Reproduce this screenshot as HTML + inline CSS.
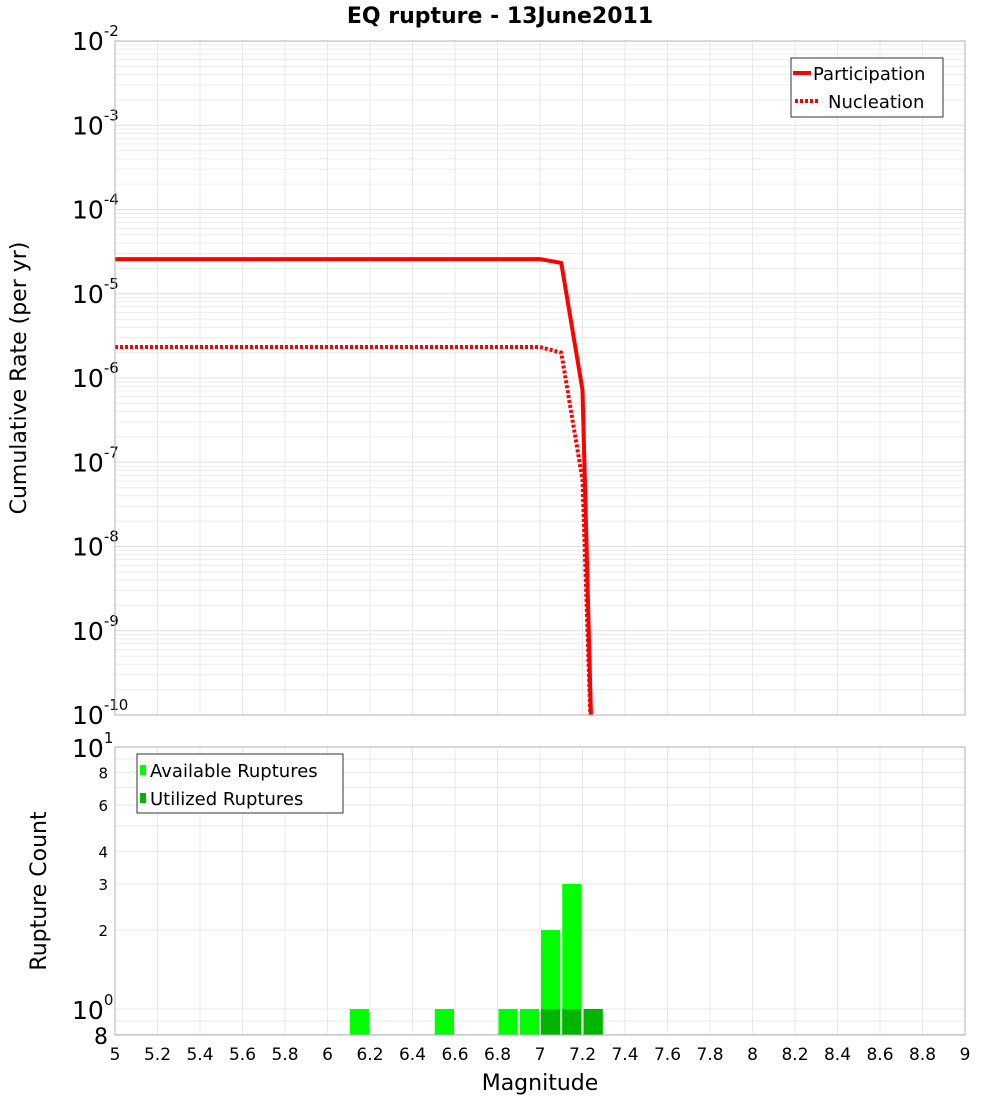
<!DOCTYPE html>
<html><head><meta charset="utf-8"><style>
html,body{margin:0;padding:0;background:#fff;}
svg{display:block;font-family:"DejaVu Sans","Liberation Sans",sans-serif;}
</style></head><body>
<svg id="c" width="1000" height="1100" xmlns="http://www.w3.org/2000/svg">
<text x="500" y="23" text-anchor="middle" font-size="22" font-weight="bold">EQ rupture - 13June2011</text>
<g id="topg"></g><g id="botg"></g>
<text transform="translate(26,378) rotate(-90)" text-anchor="middle" font-size="22">Cumulative Rate (per yr)</text>
<text transform="translate(46,891) rotate(-90)" text-anchor="middle" font-size="22">Rupture Count</text>
<text x="540" y="1090" text-anchor="middle" font-size="22">Magnitude</text>
</svg>
<script>
const mags = [5.0, 7.0, 7.1, 7.2, 7.25];
const participation = [2.58e-5, 2.58e-5, 2.32e-5, 7.2e-7, 1e-11];
const nucleation = [2.33e-6, 2.33e-6, 2.0e-6, 6.2e-8, 1e-11];
const binCenters = [6.15, 6.55, 6.85, 6.95, 7.05, 7.15, 7.25];
const available = [1, 1, 1, 1, 2, 3, 1];
const utilized = [0, 0, 0, 0, 1, 1, 1];
const xTicks = [5,5.2,5.4,5.6,5.8,6,6.2,6.4,6.6,6.8,7,7.2,7.4,7.6,7.8,8,8.2,8.4,8.6,8.8,9];
const topDecades = [-2,-3,-4,-5,-6,-7,-8,-9,-10];
const botTicks = [8,6,4,3,2];

const NS="http://www.w3.org/2000/svg";
const L=115,R=965,T1=41,B1=715,T2=747,B2=1035;
const xs=m=>L+(m-5)/4*(R-L);
const y1=v=>T1+(-2-Math.log10(v))*(B1-T1)/8;
const y2=v=>1009-Math.log10(v)*(1009-T2);
function el(tag,attrs,parent,text){const e=document.createElementNS(NS,tag);for(const k in attrs)e.setAttribute(k,attrs[k]);if(text!==undefined)e.textContent=text;parent.appendChild(e);return e;}
const topG=document.getElementById('topg'),botG=document.getElementById('botg');

for(let d=-10;d<-2;d++){for(let k=1;k<10;k++){const y=y1(k*Math.pow(10,d));const g=el('line',{x1:L,x2:R,y1:y,y2:y,stroke:k==1?'#e0e0e0':'#ececec','stroke-width':1},topG);

}}
xTicks.forEach(t=>{const x=xs(t);const g=el('line',{x1:x,x2:x,y1:T1,y2:B1,stroke:'#e8e8e8'},topG);


const g2=el('line',{x1:x,x2:x,y1:T2,y2:B2,stroke:'#e8e8e8'},botG);


const tl=el('text',{x:x,y:1060,'text-anchor':'middle','font-size':17},botG,String(t));

});
topDecades.forEach(d=>{const y=y1(Math.pow(10,d));const t=el('text',{x:72,y:y+9,'font-size':25},topG);


t.appendChild(document.createTextNode('10'));
el('tspan',{dy:-14,'font-size':15},t,String(d));});
const defs=el('defs',{},topG);const cp=el('clipPath',{id:'cp1'},defs);el('rect',{x:L,y:T1,width:R-L,height:B1-T1},cp);
function path(vals){return mags.map((m,i)=>(i?'L':'M')+xs(m)+','+y1(vals[i])).join(' ');}
const p1=el('path',{d:path(participation),fill:'none',stroke:'#ff0000','stroke-width':4,'clip-path':'url(#cp1)'},topG);


const p2=el('path',{d:path(nucleation),fill:'none',stroke:'#ff0000','stroke-width':4,'stroke-dasharray':'3,2','clip-path':'url(#cp1)'},topG);


const f1=el('rect',{x:L,y:T1,width:R-L,height:B1-T1,fill:'none',stroke:'#b0b0b0'},topG);


const lg=el('g',{},topG);


el('rect',{x:791,y:58,width:152,height:59,fill:'#fff',stroke:'#333'},lg);
el('line',{x1:793,x2:811,y1:73,y2:73,stroke:'#f00','stroke-width':4},lg);
el('text',{x:813,y:80,'font-size':18},lg,'Participation');
el('line',{x1:795,x2:820,y1:101,y2:101,stroke:'#f00','stroke-width':4,'stroke-dasharray':'3,2'},lg);
el('text',{x:828,y:108,'font-size':18},lg,'Nucleation');

[0.8,0.9,1,2,3,4,5,6,7,8,9,10].forEach(v=>{const y=y2(v);const g=el('line',{x1:L,x2:R,y1:y,y2:y,stroke:'#e8e8e8'},botG);

});
botTicks.forEach(v=>{const t=el('text',{x:108,y:y2(v)+6,'text-anchor':'end','font-size':15},botG,String(v));

});
[[0,1009],[1,747]].forEach(([e,y])=>{const t=el('text',{x:72,y:y+10,'font-size':25},botG);


t.appendChild(document.createTextNode('10'));el('tspan',{dy:-14,'font-size':15},t,String(e));});
const t8=el('text',{x:108,y:1044,'text-anchor':'end','font-size':22},botG,'8');


const bw=xs(5.1)-xs(5);
binCenters.forEach((c,i)=>{const x=xs(c)-bw/2+1;
const yb=y2(available[i]);
const b=el('rect',{x:x,y:yb,width:bw-2,height:B2-yb,fill:'#00ff00'},botG);


if(utilized[i]>0){const yu=y2(utilized[i]);const u=el('rect',{x:x,y:yu,width:bw-2,height:B2-yu,fill:'#00b400'},botG);

}});
const f2=el('rect',{x:L,y:T2,width:R-L,height:B2-T2,fill:'none',stroke:'#b0b0b0'},botG);


const lg2=el('g',{},botG);


el('rect',{x:137,y:754,width:206,height:59,fill:'#fff',stroke:'#333'},lg2);
el('rect',{x:140,y:765,width:6,height:10,fill:'#00ff00'},lg2);
el('text',{x:150,y:777,'font-size':18},lg2,'Available Ruptures');
el('rect',{x:140,y:793,width:6,height:10,fill:'#00b400'},lg2);
el('text',{x:150,y:805,'font-size':18},lg2,'Utilized Ruptures');
</script>
</body></html>
